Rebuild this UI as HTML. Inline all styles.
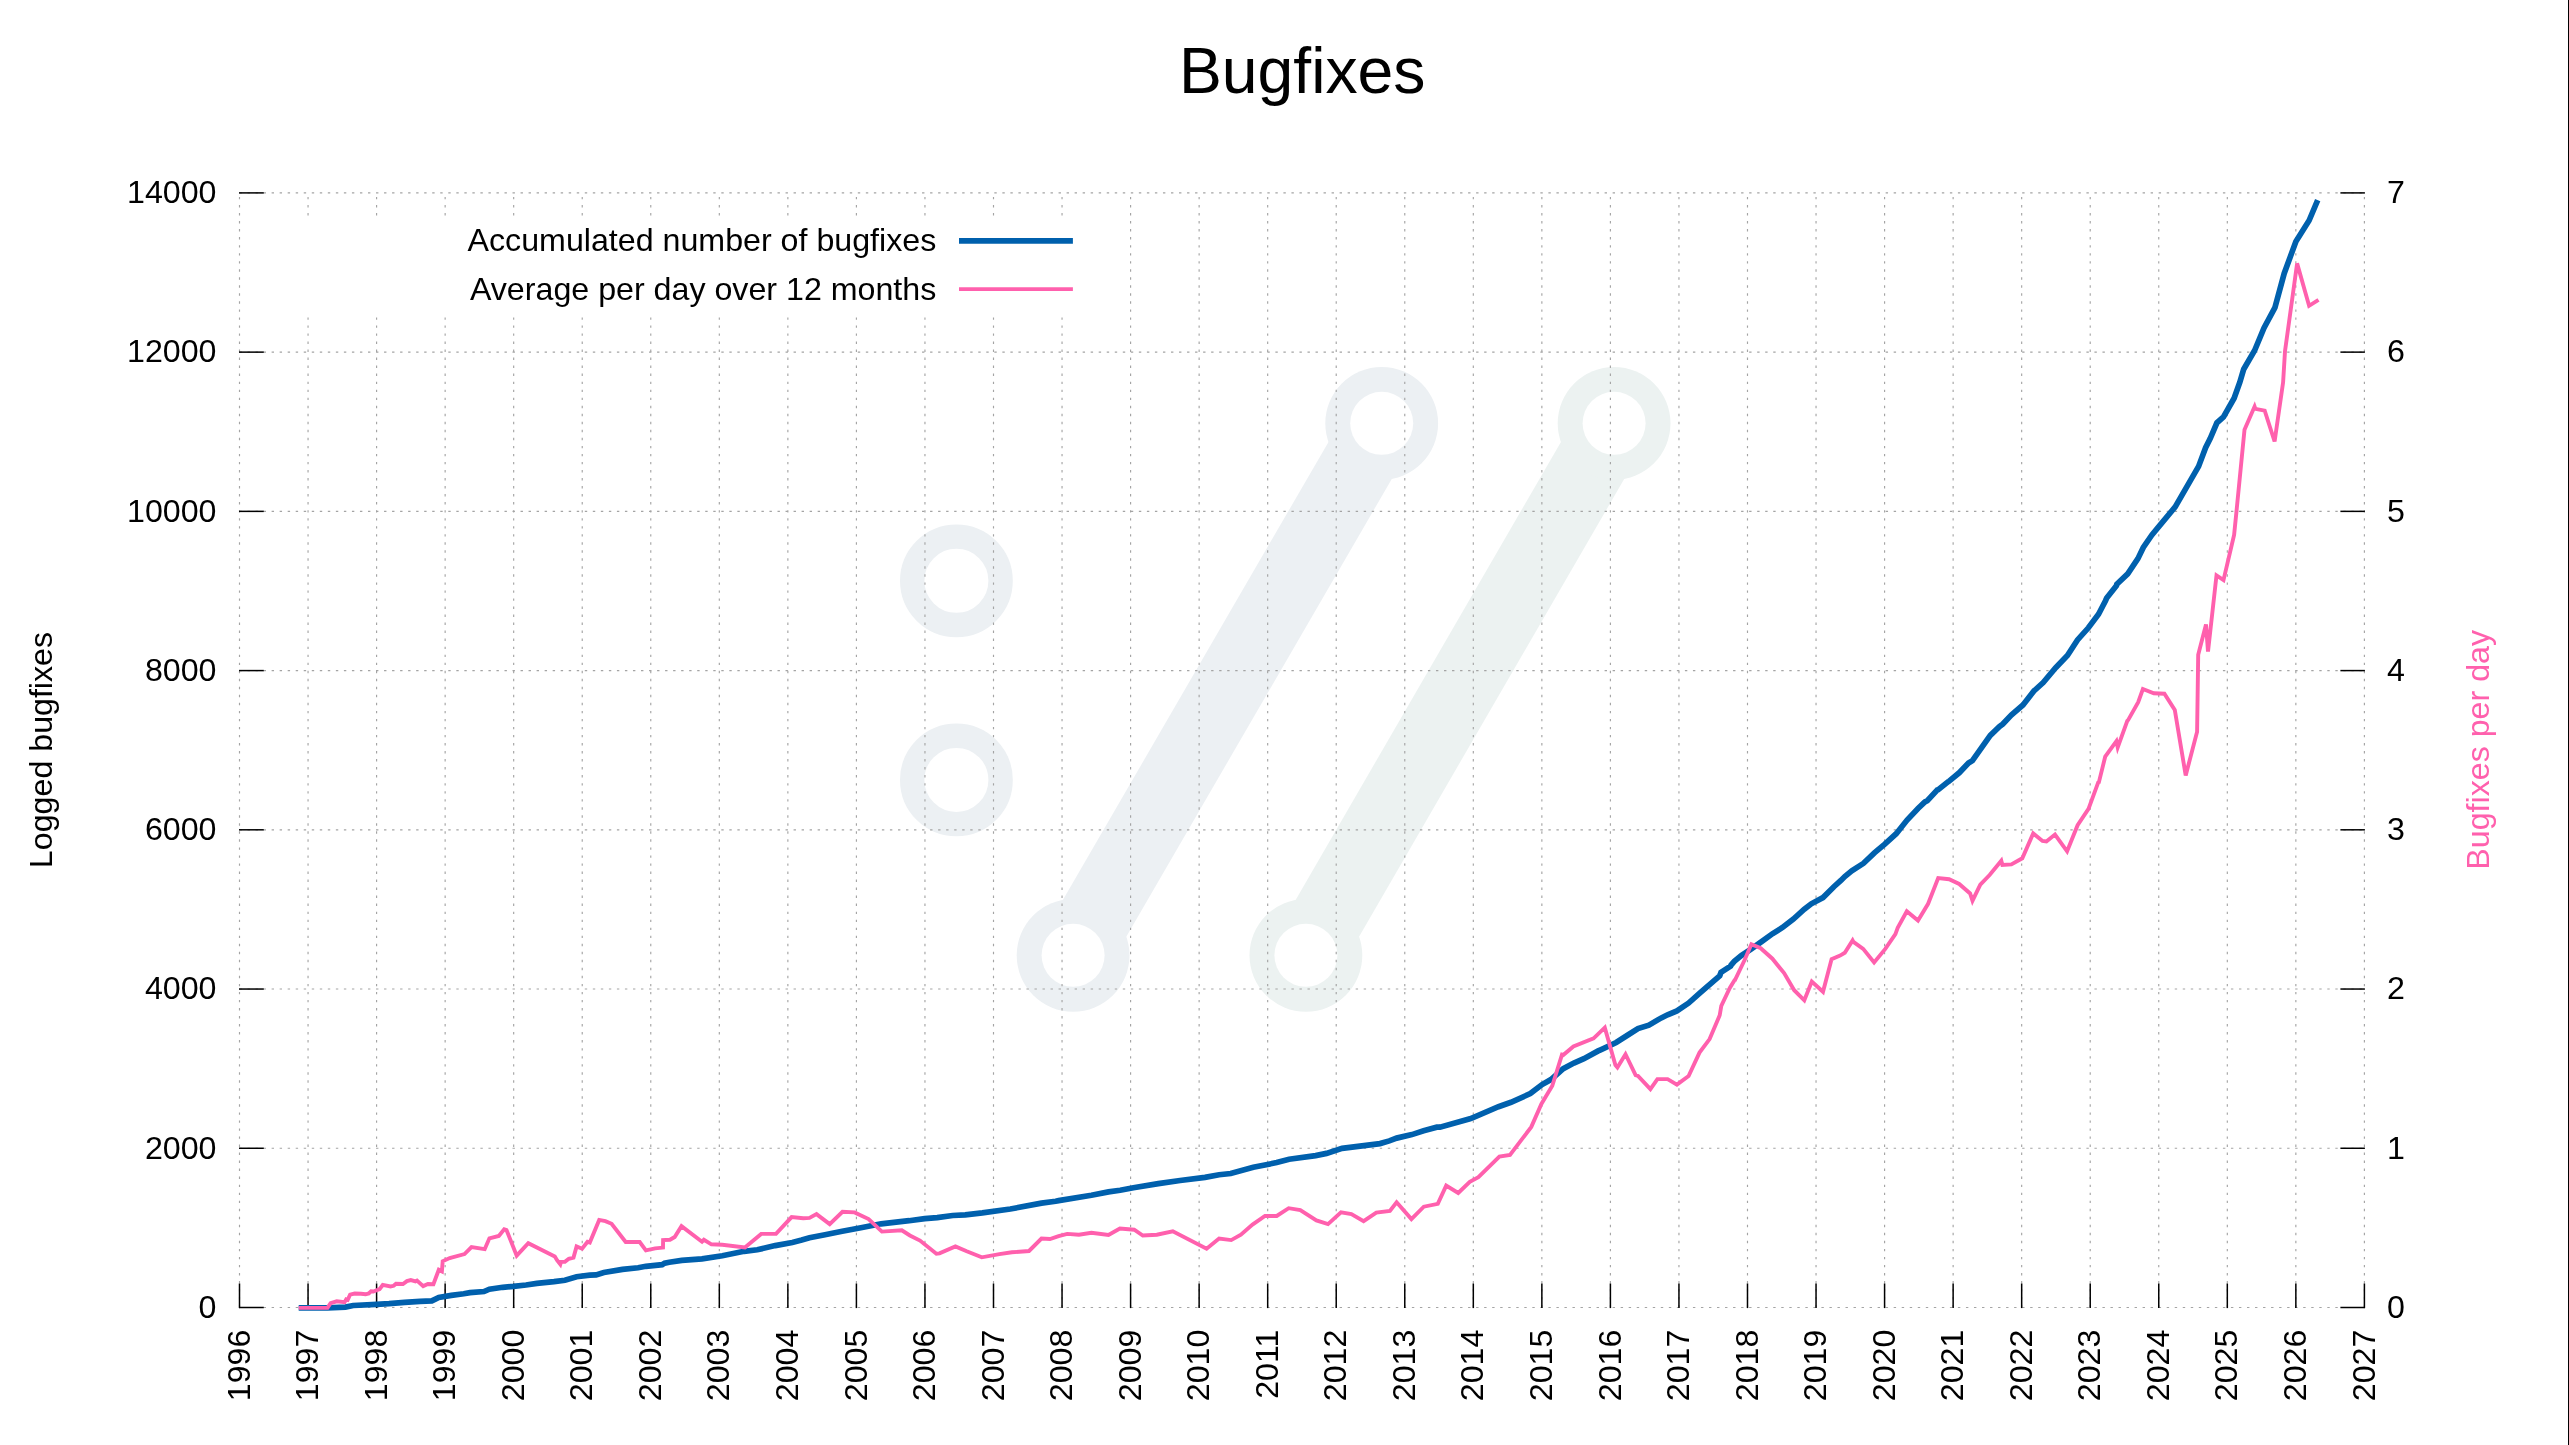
<!DOCTYPE html>
<html><head><meta charset="utf-8"><title>Bugfixes</title>
<style>
html,body{margin:0;padding:0;background:#fff;}
body{width:2569px;height:1445px;overflow:hidden;}
svg{display:block;will-change:transform;}
text{font-family:"Liberation Sans",sans-serif;fill:#000;}
</style></head><body>
<svg width="2569" height="1445" viewBox="0 0 2569 1445">
<rect x="0" y="0" width="2569" height="1445" fill="#fff"/>

<g fill="none" stroke="#ecf0f3">
<circle cx="956.4" cy="580.8" r="44.2" stroke-width="24.4"/>
<circle cx="956.4" cy="779.9" r="44.2" stroke-width="24.4"/>
</g>
<defs><mask id="hm" maskUnits="userSpaceOnUse" x="0" y="0" width="2569" height="1445"><rect x="0" y="0" width="2569" height="1445" fill="#fff"/>
<circle cx="1381.7" cy="423.3" r="31.5" fill="#000"/>
<circle cx="1073.1" cy="955.3" r="31.5" fill="#000"/>
<circle cx="1614.1" cy="423.3" r="31.5" fill="#000"/>
<circle cx="1305.9" cy="955.3" r="31.5" fill="#000"/>
</mask></defs>
<g mask="url(#hm)">
<line x1="1381.7" y1="423.3" x2="1073.1" y2="955.3" stroke="#ecf0f3" stroke-width="73.3" stroke-linecap="butt"/>
<circle cx="1381.7" cy="423.3" r="56.4" fill="#ecf0f3"/>
<circle cx="1073.1" cy="955.3" r="56.4" fill="#ecf0f3"/>
<line x1="1614.1" y1="423.3" x2="1305.9" y2="955.3" stroke="#ecf2f1" stroke-width="73.3" stroke-linecap="butt"/>
<circle cx="1614.1" cy="423.3" r="56.4" fill="#ecf2f1"/>
<circle cx="1305.9" cy="955.3" r="56.4" fill="#ecf2f1"/>
</g>
<g stroke="#a4a4a4" stroke-width="1.15" stroke-dasharray="2.4 5.63" fill="none">
<line x1="239.50" y1="1307.5" x2="239.50" y2="192.9"/>
<line x1="308.05" y1="1307.5" x2="308.05" y2="192.9"/>
<line x1="376.59" y1="1307.5" x2="376.59" y2="192.9"/>
<line x1="445.14" y1="1307.5" x2="445.14" y2="192.9"/>
<line x1="513.68" y1="1307.5" x2="513.68" y2="192.9"/>
<line x1="582.23" y1="1307.5" x2="582.23" y2="192.9"/>
<line x1="650.77" y1="1307.5" x2="650.77" y2="192.9"/>
<line x1="719.32" y1="1307.5" x2="719.32" y2="192.9"/>
<line x1="787.86" y1="1307.5" x2="787.86" y2="192.9"/>
<line x1="856.41" y1="1307.5" x2="856.41" y2="192.9"/>
<line x1="924.95" y1="1307.5" x2="924.95" y2="192.9"/>
<line x1="993.50" y1="1307.5" x2="993.50" y2="192.9"/>
<line x1="1062.04" y1="1307.5" x2="1062.04" y2="192.9"/>
<line x1="1130.59" y1="1307.5" x2="1130.59" y2="192.9"/>
<line x1="1199.13" y1="1307.5" x2="1199.13" y2="192.9"/>
<line x1="1267.68" y1="1307.5" x2="1267.68" y2="192.9"/>
<line x1="1336.22" y1="1307.5" x2="1336.22" y2="192.9"/>
<line x1="1404.77" y1="1307.5" x2="1404.77" y2="192.9"/>
<line x1="1473.31" y1="1307.5" x2="1473.31" y2="192.9"/>
<line x1="1541.86" y1="1307.5" x2="1541.86" y2="192.9"/>
<line x1="1610.40" y1="1307.5" x2="1610.40" y2="192.9"/>
<line x1="1678.95" y1="1307.5" x2="1678.95" y2="192.9"/>
<line x1="1747.49" y1="1307.5" x2="1747.49" y2="192.9"/>
<line x1="1816.04" y1="1307.5" x2="1816.04" y2="192.9"/>
<line x1="1884.58" y1="1307.5" x2="1884.58" y2="192.9"/>
<line x1="1953.13" y1="1307.5" x2="1953.13" y2="192.9"/>
<line x1="2021.67" y1="1307.5" x2="2021.67" y2="192.9"/>
<line x1="2090.22" y1="1307.5" x2="2090.22" y2="192.9"/>
<line x1="2158.76" y1="1307.5" x2="2158.76" y2="192.9"/>
<line x1="2227.31" y1="1307.5" x2="2227.31" y2="192.9"/>
<line x1="2295.85" y1="1307.5" x2="2295.85" y2="192.9"/>
<line x1="2364.40" y1="1307.5" x2="2364.40" y2="192.9"/>
<line x1="239.5" y1="1307.50" x2="2364.4" y2="1307.50"/>
<line x1="239.5" y1="1148.27" x2="2364.4" y2="1148.27"/>
<line x1="239.5" y1="989.04" x2="2364.4" y2="989.04"/>
<line x1="239.5" y1="829.81" x2="2364.4" y2="829.81"/>
<line x1="239.5" y1="670.59" x2="2364.4" y2="670.59"/>
<line x1="239.5" y1="511.36" x2="2364.4" y2="511.36"/>
<line x1="239.5" y1="352.13" x2="2364.4" y2="352.13"/>
<line x1="239.5" y1="192.90" x2="2364.4" y2="192.90"/>
</g>
<rect x="290" y="216.3" width="800" height="100.2" fill="#fff"/>
<g stroke="#000" stroke-width="1.5" fill="none">
<line x1="239.50" y1="1308.1" x2="239.50" y2="1283.5"/>
<line x1="308.05" y1="1308.1" x2="308.05" y2="1283.5"/>
<line x1="376.59" y1="1308.1" x2="376.59" y2="1283.5"/>
<line x1="445.14" y1="1308.1" x2="445.14" y2="1283.5"/>
<line x1="513.68" y1="1308.1" x2="513.68" y2="1283.5"/>
<line x1="582.23" y1="1308.1" x2="582.23" y2="1283.5"/>
<line x1="650.77" y1="1308.1" x2="650.77" y2="1283.5"/>
<line x1="719.32" y1="1308.1" x2="719.32" y2="1283.5"/>
<line x1="787.86" y1="1308.1" x2="787.86" y2="1283.5"/>
<line x1="856.41" y1="1308.1" x2="856.41" y2="1283.5"/>
<line x1="924.95" y1="1308.1" x2="924.95" y2="1283.5"/>
<line x1="993.50" y1="1308.1" x2="993.50" y2="1283.5"/>
<line x1="1062.04" y1="1308.1" x2="1062.04" y2="1283.5"/>
<line x1="1130.59" y1="1308.1" x2="1130.59" y2="1283.5"/>
<line x1="1199.13" y1="1308.1" x2="1199.13" y2="1283.5"/>
<line x1="1267.68" y1="1308.1" x2="1267.68" y2="1283.5"/>
<line x1="1336.22" y1="1308.1" x2="1336.22" y2="1283.5"/>
<line x1="1404.77" y1="1308.1" x2="1404.77" y2="1283.5"/>
<line x1="1473.31" y1="1308.1" x2="1473.31" y2="1283.5"/>
<line x1="1541.86" y1="1308.1" x2="1541.86" y2="1283.5"/>
<line x1="1610.40" y1="1308.1" x2="1610.40" y2="1283.5"/>
<line x1="1678.95" y1="1308.1" x2="1678.95" y2="1283.5"/>
<line x1="1747.49" y1="1308.1" x2="1747.49" y2="1283.5"/>
<line x1="1816.04" y1="1308.1" x2="1816.04" y2="1283.5"/>
<line x1="1884.58" y1="1308.1" x2="1884.58" y2="1283.5"/>
<line x1="1953.13" y1="1308.1" x2="1953.13" y2="1283.5"/>
<line x1="2021.67" y1="1308.1" x2="2021.67" y2="1283.5"/>
<line x1="2090.22" y1="1308.1" x2="2090.22" y2="1283.5"/>
<line x1="2158.76" y1="1308.1" x2="2158.76" y2="1283.5"/>
<line x1="2227.31" y1="1308.1" x2="2227.31" y2="1283.5"/>
<line x1="2295.85" y1="1308.1" x2="2295.85" y2="1283.5"/>
<line x1="2364.40" y1="1308.1" x2="2364.40" y2="1283.5"/>
<line x1="239.0" y1="1307.50" x2="263.8" y2="1307.50"/>
<line x1="2364.9" y1="1307.50" x2="2340.4" y2="1307.50"/>
<line x1="239.0" y1="1148.27" x2="263.8" y2="1148.27"/>
<line x1="2364.9" y1="1148.27" x2="2340.4" y2="1148.27"/>
<line x1="239.0" y1="989.04" x2="263.8" y2="989.04"/>
<line x1="2364.9" y1="989.04" x2="2340.4" y2="989.04"/>
<line x1="239.0" y1="829.81" x2="263.8" y2="829.81"/>
<line x1="2364.9" y1="829.81" x2="2340.4" y2="829.81"/>
<line x1="239.0" y1="670.59" x2="263.8" y2="670.59"/>
<line x1="2364.9" y1="670.59" x2="2340.4" y2="670.59"/>
<line x1="239.0" y1="511.36" x2="263.8" y2="511.36"/>
<line x1="2364.9" y1="511.36" x2="2340.4" y2="511.36"/>
<line x1="239.0" y1="352.13" x2="263.8" y2="352.13"/>
<line x1="2364.9" y1="352.13" x2="2340.4" y2="352.13"/>
<line x1="239.0" y1="192.90" x2="263.8" y2="192.90"/>
<line x1="2364.9" y1="192.90" x2="2340.4" y2="192.90"/>
</g>
<polyline points="298.7,1307.9 327.5,1307.9 345.4,1307.1 353.2,1305.5 376.5,1304.3 389.0,1303.7 404.6,1302.4 420.1,1301.3 431.8,1300.9 438.8,1297.4 451.3,1295.4 463.7,1293.8 470.0,1292.6 484.0,1291.5 489.4,1289.2 502.7,1287.3 513.6,1286.4 526.0,1285.0 536.9,1283.4 554.0,1281.7 564.9,1280.3 576.6,1276.7 589.8,1275.2 596.1,1274.9 603.9,1272.5 622.5,1269.4 638.1,1267.8 645.9,1266.3 662.2,1264.7 664.6,1263.2 669.3,1262.2 681.8,1260.4 702.0,1258.8 722.3,1255.7 744.1,1251.3 757.3,1249.8 775.2,1245.6 792.3,1242.5 801.7,1240.1 809.5,1237.8 825.0,1234.7 842.2,1231.3 860.9,1227.7 881.1,1223.8 909.1,1220.7 924.7,1218.6 937.2,1217.6 952.7,1215.5 965.2,1214.8 982.3,1212.9 1010.3,1209.0 1041.5,1203.1 1055.6,1201.2 1058.6,1200.6 1091.4,1195.3 1108.5,1191.9 1120.2,1190.3 1133.4,1187.7 1158.3,1183.6 1180.1,1180.5 1205.0,1177.4 1219.1,1174.7 1230.7,1173.5 1253.3,1167.3 1276.7,1162.6 1289.1,1159.2 1315.6,1155.6 1326.5,1153.4 1342.1,1148.3 1380.0,1143.6 1389.3,1140.9 1396.7,1138.1 1411.9,1134.6 1423.6,1130.8 1436.8,1127.2 1440.0,1127.2 1469.9,1118.8 1473.6,1117.3 1498.5,1106.7 1511.0,1102.3 1530.3,1093.6 1542.1,1084.6 1550.9,1079.6 1563.3,1068.7 1573.9,1063.1 1583.9,1058.7 1598.2,1050.9 1600.6,1049.8 1616.2,1042.5 1627.1,1035.5 1638.0,1028.5 1648.9,1025.1 1661.3,1017.9 1667.6,1014.8 1676.9,1010.9 1688.6,1003.1 1700.3,992.7 1719.7,975.9 1720.2,974.6 1721.0,972.3 1730.6,966.2 1731.1,965.0 1734.3,961.4 1741.3,955.6 1751.4,948.9 1762.3,941.2 1772.4,933.8 1782.5,927.5 1793.4,919.0 1804.3,909.2 1811.3,903.8 1823.0,897.6 1833.9,886.7 1840.9,880.4 1844.8,876.5 1851.8,870.8 1863.5,863.3 1874.4,852.9 1884.5,844.3 1896.2,833.7 1907.1,820.0 1918.0,808.5 1924.9,801.9 1927.3,800.7 1937.4,789.9 1938.2,789.7 1948.3,781.6 1949.1,781.2 1959.2,772.8 1968.5,763.0 1972.4,760.6 1990.3,735.4 1999.6,726.4 2002.8,724.0 2011.3,715.1 2023.0,705.0 2033.9,691.0 2043.2,682.5 2055.7,667.7 2067.4,655.5 2077.5,639.9 2088.4,627.8 2098.5,614.3 2105.5,600.7 2106.7,598.0 2116.4,585.8 2116.8,584.3 2127.7,573.8 2137.9,558.7 2143.3,547.4 2151.9,534.9 2159.6,525.6 2175.2,506.9 2198.6,466.4 2205.6,447.7 2210.3,438.4 2216.9,422.8 2223.5,416.9 2234.1,398.2 2239.8,382.3 2243.7,369.2 2254.6,350.5 2264.0,327.9 2274.9,307.7 2284.2,273.4 2295.9,241.5 2309.1,220.5 2317.7,200.2" fill="none" stroke="#0060ad" stroke-width="5.7" stroke-linejoin="miter" stroke-miterlimit="4" stroke-linecap="butt"/>
<polyline points="298.7,1307.9 327.5,1307.9 330.6,1303.2 336.8,1301.3 344.6,1302.1 346.2,1299.3 347.7,1299.8 350.1,1294.6 354.7,1293.5 361.0,1293.8 365.6,1294.3 368.8,1293.5 371.1,1291.2 373.4,1291.5 379.6,1289.2 382.8,1284.8 390.5,1286.4 393.7,1285.8 396.0,1283.7 403.0,1284.0 406.9,1281.1 410.8,1280.1 415.5,1281.4 417.0,1280.6 423.2,1286.1 427.9,1284.0 433.4,1284.2 438.8,1269.7 441.9,1271.3 442.7,1261.2 449.7,1258.0 464.5,1254.1 471.5,1247.1 484.7,1249.2 489.4,1238.3 498.8,1235.9 504.2,1229.2 506.5,1230.0 516.7,1255.7 528.3,1243.2 554.8,1256.5 557.2,1260.4 560.3,1264.3 561.0,1261.9 564.9,1261.9 568.8,1258.8 573.5,1257.6 576.6,1246.4 582.1,1248.7 587.5,1241.7 589.8,1242.5 599.2,1219.9 605.4,1221.1 611.6,1223.8 625.7,1242.0 639.7,1242.0 645.9,1250.3 655.2,1248.4 663.0,1247.6 663.1,1240.1 670.0,1239.8 674.7,1237.0 681.5,1226.1 702.0,1241.7 703.9,1239.8 711.4,1244.3 722.3,1244.8 744.9,1247.5 761.2,1233.9 776.0,1233.9 791.6,1217.1 803.2,1218.3 809.5,1217.9 816.5,1214.1 829.7,1224.1 842.5,1211.8 854.6,1212.4 868.6,1219.1 881.9,1231.6 901.8,1230.3 909.9,1235.5 920.0,1240.6 936.4,1253.8 939.5,1253.4 955.4,1246.4 966.7,1251.3 981.8,1257.3 999.4,1254.1 1011.9,1252.3 1029.0,1251.0 1041.5,1238.6 1050.0,1239.0 1058.6,1236.2 1067.2,1233.9 1078.9,1234.7 1091.4,1232.8 1108.5,1235.0 1119.9,1228.5 1134.2,1229.7 1142.8,1235.5 1156.8,1234.7 1172.8,1231.3 1206.6,1248.7 1219.1,1238.6 1231.2,1240.1 1240.9,1234.7 1252.5,1224.6 1265.0,1216.0 1276.7,1216.0 1288.7,1208.2 1300.3,1210.1 1316.4,1220.4 1328.0,1224.1 1341.0,1212.4 1351.4,1214.0 1363.6,1221.1 1376.3,1212.6 1389.9,1210.9 1396.6,1202.3 1411.4,1219.1 1423.8,1206.7 1437.8,1203.9 1446.2,1185.6 1458.2,1193.0 1469.8,1181.9 1478.4,1177.2 1499.4,1156.5 1510.0,1154.9 1531.3,1126.9 1541.4,1104.0 1552.3,1085.8 1562.0,1054.7 1563.2,1055.0 1573.4,1046.4 1593.6,1038.3 1604.8,1027.7 1615.4,1065.1 1617.4,1067.4 1625.5,1054.2 1635.6,1075.2 1638.0,1076.0 1650.4,1089.2 1657.4,1079.1 1667.6,1079.1 1676.9,1084.6 1688.6,1076.0 1699.5,1052.6 1709.6,1039.1 1719.7,1015.3 1721.3,1005.9 1729.8,988.0 1734.5,980.2 1735.0,980.1 1744.6,960.0 1751.4,944.3 1760.7,948.2 1772.4,958.7 1784.1,973.1 1794.2,990.2 1804.3,1000.3 1811.8,981.6 1823.0,991.8 1831.6,959.1 1840.1,955.6 1844.8,952.8 1852.6,940.4 1853.4,941.9 1863.2,948.9 1874.1,962.5 1885.3,948.9 1895.4,934.1 1897.7,927.9 1906.8,911.3 1918.0,920.6 1928.1,903.8 1938.2,878.1 1949.1,879.2 1959.2,884.0 1970.1,893.4 1972.5,900.7 1980.3,884.6 1989.6,875.0 2001.3,860.7 2002.4,864.9 2011.4,864.4 2022.3,858.3 2033.2,833.4 2042.5,841.0 2046.4,841.5 2055.0,834.5 2067.1,851.3 2077.6,825.2 2088.5,808.8 2098.5,781.6 2098.6,783.4 2105.2,756.7 2116.4,741.2 2117.7,747.4 2127.3,720.9 2128.1,720.1 2138.2,702.2 2142.9,689.0 2153.8,693.2 2164.4,693.7 2174.8,710.0 2185.7,775.4 2197.1,731.8 2198.2,654.7 2206.0,624.4 2208.0,651.6 2216.5,575.4 2223.5,580.1 2234.1,534.9 2236.7,509.2 2244.5,429.8 2254.6,406.5 2255.4,408.8 2264.7,410.7 2274.6,441.5 2283.1,382.3 2285.0,351.3 2297.1,263.4 2309.1,305.8 2318.5,299.9" fill="none" stroke="#ff60ad" stroke-width="3.9" stroke-linejoin="miter" stroke-miterlimit="4" stroke-linecap="butt"/>
<line x1="959" y1="240.9" x2="1072.9" y2="240.9" stroke="#0060ad" stroke-width="5.7"/>
<line x1="959" y1="289.1" x2="1072.9" y2="289.1" stroke="#ff60ad" stroke-width="3.9"/>
<text x="936.3" y="251.3" font-size="32.2" text-anchor="end">Accumulated number of bugfixes</text>
<text x="936.3" y="299.9" font-size="32.2" text-anchor="end">Average per day over 12 months</text>
<text x="1302.2" y="92.7" font-size="64.3" text-anchor="middle">Bugfixes</text>
<text x="216.5" y="1317.8" font-size="32.2" text-anchor="end">0</text>
<text x="2387" y="1317.8" font-size="32.2" text-anchor="start">0</text>
<text x="216.5" y="1158.6" font-size="32.2" text-anchor="end">2000</text>
<text x="2387" y="1158.6" font-size="32.2" text-anchor="start">1</text>
<text x="216.5" y="999.3" font-size="32.2" text-anchor="end">4000</text>
<text x="2387" y="999.3" font-size="32.2" text-anchor="start">2</text>
<text x="216.5" y="840.1" font-size="32.2" text-anchor="end">6000</text>
<text x="2387" y="840.1" font-size="32.2" text-anchor="start">3</text>
<text x="216.5" y="680.9" font-size="32.2" text-anchor="end">8000</text>
<text x="2387" y="680.9" font-size="32.2" text-anchor="start">4</text>
<text x="216.5" y="521.7" font-size="32.2" text-anchor="end">10000</text>
<text x="2387" y="521.7" font-size="32.2" text-anchor="start">5</text>
<text x="216.5" y="362.4" font-size="32.2" text-anchor="end">12000</text>
<text x="2387" y="362.4" font-size="32.2" text-anchor="start">6</text>
<text x="216.5" y="203.2" font-size="32.2" text-anchor="end">14000</text>
<text x="2387" y="203.2" font-size="32.2" text-anchor="start">7</text>
<text transform="translate(249.6,1329.6) rotate(-90)" font-size="32.2" text-anchor="end">1996</text>
<text transform="translate(318.1,1329.6) rotate(-90)" font-size="32.2" text-anchor="end">1997</text>
<text transform="translate(386.7,1329.6) rotate(-90)" font-size="32.2" text-anchor="end">1998</text>
<text transform="translate(455.2,1329.6) rotate(-90)" font-size="32.2" text-anchor="end">1999</text>
<text transform="translate(523.8,1329.6) rotate(-90)" font-size="32.2" text-anchor="end">2000</text>
<text transform="translate(592.3,1329.6) rotate(-90)" font-size="32.2" text-anchor="end">2001</text>
<text transform="translate(660.9,1329.6) rotate(-90)" font-size="32.2" text-anchor="end">2002</text>
<text transform="translate(729.4,1329.6) rotate(-90)" font-size="32.2" text-anchor="end">2003</text>
<text transform="translate(798.0,1329.6) rotate(-90)" font-size="32.2" text-anchor="end">2004</text>
<text transform="translate(866.5,1329.6) rotate(-90)" font-size="32.2" text-anchor="end">2005</text>
<text transform="translate(935.1,1329.6) rotate(-90)" font-size="32.2" text-anchor="end">2006</text>
<text transform="translate(1003.6,1329.6) rotate(-90)" font-size="32.2" text-anchor="end">2007</text>
<text transform="translate(1072.1,1329.6) rotate(-90)" font-size="32.2" text-anchor="end">2008</text>
<text transform="translate(1140.7,1329.6) rotate(-90)" font-size="32.2" text-anchor="end">2009</text>
<text transform="translate(1209.2,1329.6) rotate(-90)" font-size="32.2" text-anchor="end">2010</text>
<text transform="translate(1277.8,1329.6) rotate(-90)" font-size="32.2" text-anchor="end">2011</text>
<text transform="translate(1346.3,1329.6) rotate(-90)" font-size="32.2" text-anchor="end">2012</text>
<text transform="translate(1414.9,1329.6) rotate(-90)" font-size="32.2" text-anchor="end">2013</text>
<text transform="translate(1483.4,1329.6) rotate(-90)" font-size="32.2" text-anchor="end">2014</text>
<text transform="translate(1552.0,1329.6) rotate(-90)" font-size="32.2" text-anchor="end">2015</text>
<text transform="translate(1620.5,1329.6) rotate(-90)" font-size="32.2" text-anchor="end">2016</text>
<text transform="translate(1689.0,1329.6) rotate(-90)" font-size="32.2" text-anchor="end">2017</text>
<text transform="translate(1757.6,1329.6) rotate(-90)" font-size="32.2" text-anchor="end">2018</text>
<text transform="translate(1826.1,1329.6) rotate(-90)" font-size="32.2" text-anchor="end">2019</text>
<text transform="translate(1894.7,1329.6) rotate(-90)" font-size="32.2" text-anchor="end">2020</text>
<text transform="translate(1963.2,1329.6) rotate(-90)" font-size="32.2" text-anchor="end">2021</text>
<text transform="translate(2031.8,1329.6) rotate(-90)" font-size="32.2" text-anchor="end">2022</text>
<text transform="translate(2100.3,1329.6) rotate(-90)" font-size="32.2" text-anchor="end">2023</text>
<text transform="translate(2168.9,1329.6) rotate(-90)" font-size="32.2" text-anchor="end">2024</text>
<text transform="translate(2237.4,1329.6) rotate(-90)" font-size="32.2" text-anchor="end">2025</text>
<text transform="translate(2306.0,1329.6) rotate(-90)" font-size="32.2" text-anchor="end">2026</text>
<text transform="translate(2374.5,1329.6) rotate(-90)" font-size="32.2" text-anchor="end">2027</text>
<text transform="translate(51.9,750) rotate(-90)" font-size="32.2" text-anchor="middle">Logged bugfixes</text>
<text transform="translate(2489.1,749.8) rotate(-90)" font-size="32.2" text-anchor="middle" style="fill:#ff60ad">Bugfixes per day</text>
<rect x="2568" y="0" width="1" height="1445" fill="#000"/>
</svg></body></html>
